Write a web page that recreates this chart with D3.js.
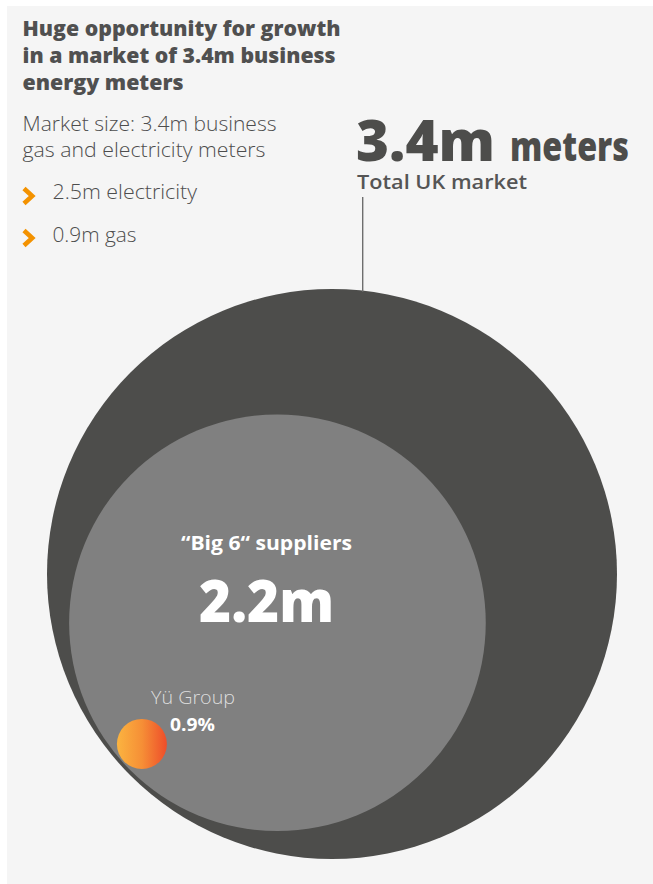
<!DOCTYPE html>
<html>
<head>
<meta charset="utf-8">
<script src="https://cdn.jsdelivr.net/npm/d3@7"></script>
<style>
  html, body { margin: 0; padding: 0; background: #ffffff; }
  svg { display: block; }
  text { font-family: "Open Sans", "Noto Sans", sans-serif; }
</style>
</head>
<body>
<script>
// ---- data ----
const titleLines = ["Huge opportunity for growth", "in a market of 3.4m business", "energy meters"];
const subtitleLines = ["Market size: 3.4m business", "gas and electricity meters"];
const meterTypes = ["electricity", "gas"];
const meterValues = [2.5, 0.9];           // millions of meters
const marketLabels = ["Total UK market", "\u201CBig 6\u201C suppliers"];
const marketValues = [3.4, 2.2];          // millions of meters
const yuLabel = "Yü Group";
const yuShare = 0.9;                      // percent of market

const W = 653, H = 884;
const svg = d3.select("body").append("svg").attr("width", W).attr("height", H);

const defs = svg.append("defs");
const grad = defs.append("linearGradient").attr("id", "yuGrad")
  .attr("x1", "0%").attr("x2", "100%").attr("y1", "0%").attr("y2", "0%");
grad.append("stop").attr("offset", "0%").attr("stop-color", "#fbb440");
grad.append("stop").attr("offset", "50%").attr("stop-color", "#f68f36");
grad.append("stop").attr("offset", "100%").attr("stop-color", "#ee4d2a");

// background panel
svg.append("rect").attr("x", 7).attr("y", 6).attr("width", W - 7).attr("height", H - 6)
  .attr("fill", "#f5f5f5");

const dark = "#4d4d4b";

// title
const titleW = [318, 313, 161];
svg.append("g").selectAll("text").data(titleLines).join("text")
  .attr("x", 22.5).attr("y", (d, i) => 35.7 + i * 27.3)
  .attr("font-size", 21).attr("font-weight", 800).attr("fill", "#505050")
  .attr("textLength", (d, i) => titleW[i]).attr("lengthAdjust", "spacingAndGlyphs")
  .text(d => d);

// subtitle
const subW = [254, 243];
svg.append("g").selectAll("text").data(subtitleLines).join("text")
  .attr("x", 22.5).attr("y", (d, i) => 131 + i * 25.7)
  .attr("font-size", 20.5).attr("font-weight", 300).attr("fill", "#4d4d4d")
  .attr("textLength", (d, i) => subW[i]).attr("lengthAdjust", "spacingAndGlyphs")
  .text(d => d);

// bullets
const bulletW = [144.5, 84];
const bullets = svg.append("g").selectAll("g").data(meterTypes).join("g")
  .attr("transform", (d, i) => `translate(0, ${196 + i * 42})`);
bullets.append("path")
  .attr("d", "M24,-7.5 L32.2,0 L24,7.5")
  .attr("fill", "none").attr("stroke", "#f39200").attr("stroke-width", 4.6)
  .attr("stroke-linejoin", "miter").attr("stroke-linecap", "butt");
bullets.append("text")
  .attr("x", 52.5).attr("y", (d, i) => 3.3 + (i === 1 ? 0.7 : 0))
  .attr("font-size", 20.5).attr("font-weight", 300).attr("fill", "#4d4d4d")
  .attr("textLength", (d, i) => bulletW[i]).attr("lengthAdjust", "spacingAndGlyphs")
  .text((d, i) => `${meterValues[i]}m ${d}`);

// circles
const rScale = d3.scalePow().exponent(0.72).domain([0, d3.max(marketValues)]).range([0, 285]);
const outerC = { x: 332, y: 574 };
const ang = 138.2 * Math.PI / 180;
const ux = Math.cos(ang), uy = Math.sin(ang);
const R0 = rScale(marketValues[0]), R1 = rScale(marketValues[1]);
const innerC = { x: outerC.x + ux * (R0 - R1 - 3.5), y: outerC.y + uy * (R0 - R1 - 3.5) };
const dotR = 25;
const dotC = { x: innerC.x + ux * (R1 - dotR - 1.5), y: innerC.y + uy * (R1 - dotR - 1.5) };

const circleData = [
  { c: outerC, r: R0, fill: dark },
  { c: innerC, r: R1, fill: "#808080" }
];
svg.append("g").selectAll("circle").data(circleData).join("circle")
  .attr("cx", d => d.c.x).attr("cy", d => d.c.y).attr("r", d => d.r).attr("fill", d => d.fill);

svg.append("circle").attr("cx", dotC.x).attr("cy", dotC.y).attr("r", dotR).attr("fill", "url(#yuGrad)");

// leader line
const lx = 362.7;
const topY = outerC.y - Math.sqrt(R0 * R0 - (lx - outerC.x) ** 2);
svg.append("line").attr("x1", lx).attr("x2", lx).attr("y1", 197).attr("y2", topY + 1)
  .attr("stroke", "#6e6e6e").attr("stroke-width", 1.4);

// total market label
svg.append("text").attr("transform", "translate(356,161) scale(1,1.17)")
  .attr("font-size", 48).attr("font-weight", 800).attr("fill", dark)
  .attr("textLength", 139).attr("lengthAdjust", "spacingAndGlyphs")
  .text(`${marketValues[0]}m`);
svg.append("text").attr("transform", "translate(510,161) scale(1,1.1)")
  .attr("font-size", 37).attr("font-weight", 800).attr("fill", dark)
  .attr("textLength", 119).attr("lengthAdjust", "spacingAndGlyphs")
  .text("meters");
svg.append("text").attr("x", 357).attr("y", 189.3)
  .attr("font-size", 20).attr("font-weight", 600).attr("fill", "#555555")
  .attr("textLength", 170).attr("lengthAdjust", "spacingAndGlyphs")
  .text(marketLabels[0]);

// big 6 labels
const midX = 266.5;
svg.append("text").attr("x", midX).attr("y", 550).attr("text-anchor", "middle")
  .attr("font-size", 19.5).attr("font-weight", 700).attr("fill", "#ffffff")
  .attr("textLength", 171).attr("lengthAdjust", "spacingAndGlyphs")
  .text(marketLabels[1]);
svg.append("text").attr("x", midX).attr("y", 621.7).attr("text-anchor", "middle")
  .attr("font-size", 58).attr("font-weight", 800).attr("fill", "#ffffff")
  .attr("textLength", 135).attr("lengthAdjust", "spacingAndGlyphs")
  .text(`${marketValues[1]}m`);

// Yu group labels
svg.append("text").attr("x", 151).attr("y", 704)
  .attr("font-size", 18.5).attr("font-weight", 300).attr("fill", "#dedede")
  .attr("textLength", 84).attr("lengthAdjust", "spacingAndGlyphs")
  .text(yuLabel);
svg.append("text").attr("x", 170).attr("y", 731)
  .attr("font-size", 17).attr("font-weight", 700).attr("fill", "#ffffff")
  .attr("textLength", 45).attr("lengthAdjust", "spacingAndGlyphs")
  .text(`${yuShare}%`);
</script>
</body>
</html>
